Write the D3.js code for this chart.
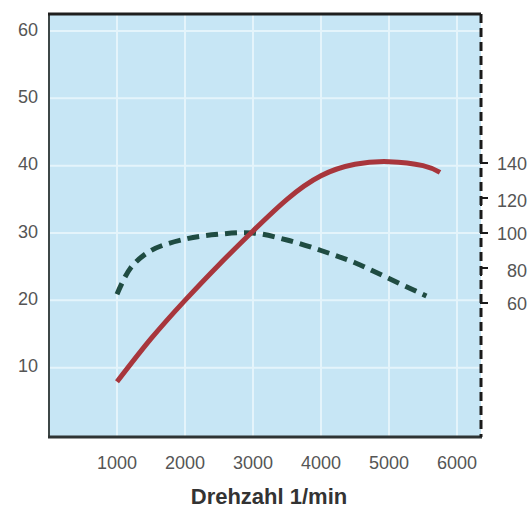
<!DOCTYPE html>
<html>
<head>
<meta charset="utf-8">
<script src="https://cdn.jsdelivr.net/npm/d3@7"></script>
<style>
  body { margin: 0; background: #fff; }
  text { font-family: "Liberation Sans", Arial, sans-serif; }
</style>
</head>
<body>
<div id="chart"></div>
<script>
// data
var leistungRpm = [1000, 1500, 2000, 2500, 3000, 3500, 4000, 4500, 5000, 5500, 5750];
var leistungKw = [7.9, 14.3, 20.0, 25.3, 30.3, 35.0, 38.5, 40.2, 40.6, 40.0, 39.0];
var momentRpm = [1000, 1200, 1500, 2000, 2500, 3000, 3500, 4000, 4500, 5000, 5550];
var momentNm = [65, 80, 90, 96.5, 99.3, 100, 96, 90, 83, 74, 64];
var xTicks = [1000, 2000, 3000, 4000, 5000, 6000];
var yTicks = [10, 20, 30, 40, 50, 60];
var rightTicks = [60, 80, 100, 120, 140];
var xTitle = "Drehzahl 1/min";

var width = 529, height = 509;
// plot frame (don't use "top", it clashes with window.top)
var pLeft = 49, pRight = 481, pTop = 14, pBottom = 437;

var x = d3.scaleLinear().domain([0, 6000]).range([49, 457]);
var y = d3.scaleLinear().domain([0, 60]).range([435, 31]);
var yR = d3.scaleLinear().domain([60, 140]).range([303, 163]);

var svg = d3.select("#chart").append("svg")
  .attr("width", width)
  .attr("height", height);

// plot background
svg.append("rect")
  .attr("x", pLeft).attr("y", pTop)
  .attr("width", pRight - pLeft).attr("height", pBottom - pTop)
  .attr("fill", "#c7e6f5");

// grid
svg.selectAll(".vgrid").data(xTicks).enter().append("line")
  .attr("x1", function(d) { return x(d); }).attr("x2", function(d) { return x(d); })
  .attr("y1", pTop).attr("y2", pBottom)
  .attr("stroke", "#e4f4fb").attr("stroke-width", 2);
svg.selectAll(".hgrid").data(yTicks).enter().append("line")
  .attr("x1", pLeft).attr("x2", pRight)
  .attr("y1", function(d) { return y(d); }).attr("y2", function(d) { return y(d); })
  .attr("stroke", "#e4f4fb").attr("stroke-width", 2);

// frame
svg.append("line").attr("x1", pLeft).attr("x2", pLeft).attr("y1", pTop).attr("y2", pBottom)
  .attr("stroke", "#3d4747").attr("stroke-width", 2);
svg.append("line").attr("x1", pLeft - 1).attr("x2", pRight).attr("y1", pTop).attr("y2", pTop)
  .attr("stroke", "#1e1e1e").attr("stroke-width", 3);
svg.append("line").attr("x1", pLeft - 1).attr("x2", pRight + 1).attr("y1", pBottom).attr("y2", pBottom)
  .attr("stroke", "#2e3434").attr("stroke-width", 3);
svg.append("line").attr("x1", pRight).attr("x2", pRight).attr("y1", pTop).attr("y2", pBottom)
  .attr("stroke", "#1a1a1a").attr("stroke-width", 3)
  .attr("stroke-dasharray", "9,5");

// right axis ticks (alternating L / Γ shapes)
rightTicks.forEach(function(d, i) {
  var yy = yR(d);
  var up = i % 2 === 0; // L shape: stub at bottom
  svg.append("path")
    .attr("d", "M" + pRight + "," + (up ? yy - 8 : yy + 8) + "V" + yy + "H" + (pRight + 7))
    .attr("fill", "none").attr("stroke", "#1a1a1a").attr("stroke-width", 2);
  svg.append("text")
    .attr("x", 527).attr("y", yy + (up ? 2 : 4))
    .attr("text-anchor", "end")
    .attr("dominant-baseline", "middle")
    .attr("font-size", 18).attr("fill", "#555")
    .text(d);
});

// left tick labels
svg.selectAll(".ylab").data(yTicks).enter().append("text")
  .attr("x", 38).attr("y", function(d) { return y(d); })
  .attr("text-anchor", "end").attr("dominant-baseline", "middle")
  .attr("font-size", 18).attr("fill", "#555")
  .text(function(d) { return d; });

// bottom tick labels
svg.selectAll(".xlab").data(xTicks).enter().append("text")
  .attr("x", function(d) { return x(d); }).attr("y", 469)
  .attr("text-anchor", "middle")
  .attr("font-size", 18).attr("fill", "#555")
  .text(function(d) { return d; });

svg.append("text")
  .attr("x", 269).attr("y", 504)
  .attr("text-anchor", "middle")
  .attr("font-size", 22).attr("font-weight", "bold").attr("fill", "#333")
  .text(xTitle);

// curves
var leistung = leistungRpm.map(function(r, i) { return [r, leistungKw[i]]; });
var moment = momentRpm.map(function(r, i) { return [r, momentNm[i]]; });

var lineL = d3.line().curve(d3.curveNatural)
  .x(function(d) { return x(d[0]); }).y(function(d) { return y(d[1]); });
var lineR = d3.line().curve(d3.curveCatmullRom)
  .x(function(d) { return x(d[0]); }).y(function(d) { return yR(d[1]); });

svg.append("path").datum(moment)
  .attr("d", lineR)
  .attr("fill", "none").attr("stroke", "#1f4c42").attr("stroke-width", 5)
  .attr("stroke-dasharray", "12,7");

svg.append("path").datum(leistung)
  .attr("d", lineL)
  .attr("fill", "none").attr("stroke", "#a8363c").attr("stroke-width", 5);
</script>
</body>
</html>
